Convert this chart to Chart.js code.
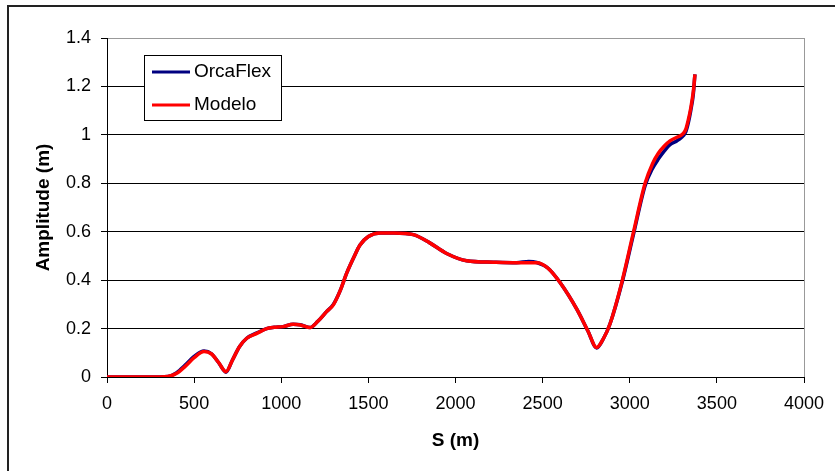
<!DOCTYPE html>
<html>
<head>
<meta charset="utf-8">
<script src="https://cdn.jsdelivr.net/npm/chart.js@4/dist/chart.umd.min.js"></script>
<style>
  body { margin: 0; background: #fff; }
  #wrap { position: relative; width: 835px; height: 471px; }
</style>
</head>
<body>
<div id="wrap"><canvas id="grafico"></canvas></div>
<script>
// S (m) along the line
const sPos = [0, 100, 200, 300, 350, 400, 450, 500, 557, 600, 640, 683, 720, 760, 802, 860, 916, 960, 1011, 1068, 1110, 1165, 1210, 1260, 1299, 1340, 1376, 1420, 1452, 1500, 1567, 1650, 1758, 1850, 1949, 2064, 2217, 2350, 2420, 2466, 2530, 2600, 2696, 2760, 2810, 2850, 2887, 2954, 3020, 3088, 3130, 3164, 3200, 3231, 3270, 3298, 3320, 3336, 3350, 3365, 3374];

// Amplitude (m)
const orcaflex = [0, 0, 0, 0, 0.002, 0.018, 0.05, 0.085, 0.107, 0.096, 0.06, 0.02, 0.07, 0.125, 0.16, 0.182, 0.2, 0.205, 0.208, 0.218, 0.216, 0.204, 0.23, 0.27, 0.3, 0.36, 0.43, 0.5, 0.545, 0.58, 0.595, 0.595, 0.588, 0.555, 0.51, 0.48, 0.474, 0.472, 0.477, 0.473, 0.45, 0.39, 0.28, 0.19, 0.12, 0.16, 0.22, 0.385, 0.585, 0.79, 0.86, 0.9, 0.935, 0.96, 0.975, 0.99, 1.01, 1.05, 1.1, 1.17, 1.25];
const modelo = [0, 0, 0, 0, 0.002, 0.015, 0.045, 0.08, 0.105, 0.095, 0.06, 0.022, 0.07, 0.125, 0.16, 0.18, 0.2, 0.205, 0.208, 0.218, 0.215, 0.204, 0.23, 0.27, 0.298, 0.36, 0.43, 0.5, 0.545, 0.58, 0.595, 0.595, 0.588, 0.555, 0.51, 0.48, 0.474, 0.472, 0.472, 0.472, 0.45, 0.39, 0.28, 0.19, 0.122, 0.16, 0.22, 0.39, 0.594, 0.8, 0.88, 0.924, 0.955, 0.975, 0.99, 1.0, 1.02, 1.062, 1.11, 1.18, 1.25];

const xTicks = [0, 500, 1000, 1500, 2000, 2500, 3000, 3500, 4000];
const yTicks = [0, 0.2, 0.4, 0.6, 0.8, 1, 1.2, 1.4];

const fuente = "'Liberation Sans', Arial, sans-serif";

function puntos(vals) {
  return sPos.map((s, i) => ({ x: s, y: vals[i] }));
}

// marco exterior y leyenda dentro del grafico
const marco = {
  id: "marco",
  beforeDraw(chart) {
    const ctx = chart.ctx;
    ctx.save();
    ctx.fillStyle = "#fff";
    ctx.fillRect(0, 0, chart.width, chart.height);
    ctx.strokeStyle = "#222";
    ctx.lineWidth = 2;
    ctx.strokeRect(8, 6, chart.width + 10, chart.height + 10);
    ctx.restore();
  },
  afterDraw(chart) {
    const ctx = chart.ctx;
    const a = chart.chartArea;
    const bx = a.left + 37, by = a.top + 17;
    ctx.save();
    ctx.fillStyle = "#fff";
    ctx.fillRect(bx, by, 137, 65);
    ctx.strokeStyle = "#000";
    ctx.lineWidth = 1;
    ctx.strokeRect(bx + 0.5, by + 0.5, 137, 65);
    const items = [chart.data.datasets[0], chart.data.datasets[1]];
    items.forEach((ds, i) => {
      const y = by + 17 + i * 33;
      ctx.strokeStyle = ds.borderColor;
      ctx.lineWidth = 3;
      ctx.beginPath();
      ctx.moveTo(bx + 8, y);
      ctx.lineTo(bx + 46, y);
      ctx.stroke();
      ctx.fillStyle = "#000";
      ctx.font = "19px " + fuente;
      ctx.textBaseline = "middle";
      ctx.fillText(ds.label, bx + 50, y);
    });
    ctx.restore();
  },
};

new Chart(document.getElementById("grafico"), {
  type: "line",
  data: {
    datasets: [
      {
        label: "OrcaFlex",
        data: puntos(orcaflex),
        borderColor: "#000080",
        borderWidth: 3.5,
        pointRadius: 0,
        cubicInterpolationMode: "monotone",
        order: 1,
      },
      {
        label: "Modelo",
        data: puntos(modelo),
        borderColor: "#ff0000",
        borderWidth: 3.5,
        pointRadius: 0,
        cubicInterpolationMode: "monotone",
        order: 0,
      },
    ],
  },
  plugins: [marco],
  options: {
    responsive: true,
    maintainAspectRatio: false,
    animation: false,
    layout: { padding: { left: 0, top: 38, right: 31, bottom: 0 } },
    plugins: {
      legend: { display: false },
      tooltip: { enabled: false },
    },
    scales: {
      x: {
        type: "linear",
        min: 0,
        max: 4000,
        afterFit: (s) => { s.height = 94; },
        afterBuildTicks: (s) => { s.ticks = xTicks.map((v) => ({ value: v })); },
        ticks: {
          color: "#000",
          font: { family: fuente, size: 18 },
          padding: 10,
          maxRotation: 0,
          callback: (v) => String(v),
        },
        grid: {
          color: (c) => (c.tick && c.tick.value === 4000 ? "#999" : "transparent"),
          tickColor: "#000",
          tickLength: 6,
        },
        border: { color: "#000" },
        title: {
          display: true,
          text: "S (m)",
          color: "#000",
          font: { family: fuente, size: 19, weight: "bold" },
          padding: { top: 0, bottom: 19 },
        },
      },
      y: {
        min: 0,
        max: 1.4,
        afterFit: (s) => { s.width = 107; },
        afterBuildTicks: (s) => { s.ticks = yTicks.map((v) => ({ value: v })); },
        ticks: {
          color: "#000",
          font: { family: fuente, size: 18 },
          padding: 10,
          callback: (v) => String(Math.round(v * 10) / 10),
        },
        grid: {
          color: (c) => (c.tick && c.tick.value === 1.4 ? "#999" : "#000"),
          tickColor: "#000",
          tickLength: 6,
        },
        border: { color: "#000" },
        title: {
          display: true,
          text: "Amplitude (m)",
          color: "#000",
          font: { family: fuente, size: 19, weight: "bold" },
          padding: { top: 32, bottom: 0 },
        },
      },
    },
  },
});
</script>
</body>
</html>
